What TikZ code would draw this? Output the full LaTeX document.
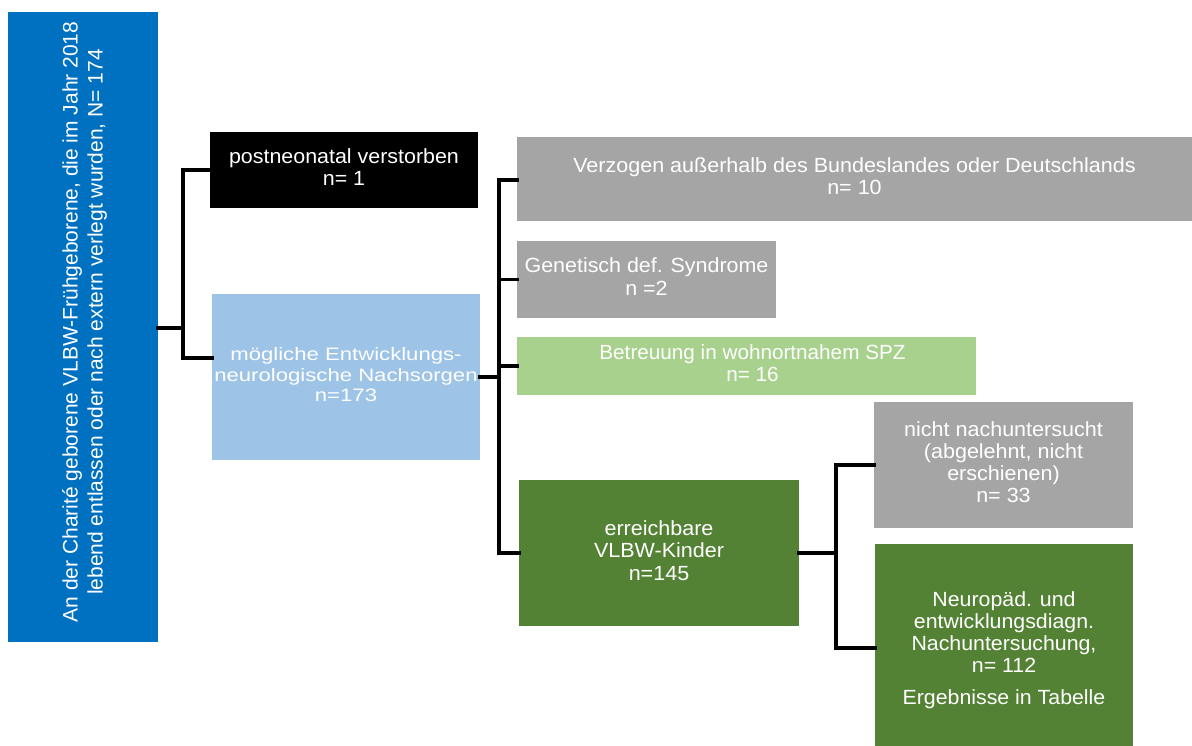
\documentclass[tikz,border=0pt]{standalone}
\usepackage{fontspec}
\setmainfont{Liberation Sans}
\usepackage{graphicx}
\definecolor{cblue}{HTML}{0070C0}
\definecolor{clblue}{HTML}{9DC3E6}
\definecolor{cgray}{HTML}{A5A5A5}
\definecolor{clgreen}{HTML}{A9D18E}
\definecolor{cdgreen}{HTML}{548235}
\newcommand{\boxtext}[4]{\fontsize{#1}{#2}\selectfont\scalebox{#3}[1]{\begin{tabular}{@{}c@{}}#4\end{tabular}}}
\begin{document}
\begin{tikzpicture}[x=1pt,y=-1pt,
  box/.style={rectangle, inner sep=0pt, outer sep=0pt, text=white, draw=none},
  conn/.style={draw=black, line width=3.5pt, line cap=rect, line join=miter}]
\useasboundingbox[fill=white] (0,0) rectangle (1192,746);

\node[box, fill=cblue, minimum width=150pt, minimum height=630pt] (root) at (83,327) {};
\node[text=white, rotate=90, inner sep=0pt, align=center, font=\fontsize{21}{25}\selectfont] (roottext) at (84.5,322)
  {An der Charité geborene VLBW-Frühgeborene, die im Jahr 2018\\lebend entlassen oder nach extern verlegt wurden, N= 174};

\node[box, fill=black, minimum width=268pt, minimum height=76pt] (dead) at (344,170)
  {\boxtext{20.5}{22.5}{1.045}{postneonatal verstorben\\n= 1}};
\node[box, fill=clblue, minimum width=268pt, minimum height=166pt] (poss) at (346,377)
  {\boxtext{18}{20.5}{1.23}{mögliche Entwicklungs-\\neurologische Nachsorgen\\n=173}};

\node[box, fill=cgray, minimum width=675pt, minimum height=84pt] (moved) at (854.5,179)
  {\boxtext{20.5}{22.5}{1.05}{Verzogen außerhalb des Bundeslandes oder Deutschlands\\n= 10}};
\node[box, fill=cgray, minimum width=259pt, minimum height=77pt] (gen) at (646.5,279.5)
  {\boxtext{20.5}{22.5}{1.045}{Genetisch def. Syndrome\\n =2}};
\node[box, fill=clgreen, minimum width=459pt, minimum height=58pt] (spz) at (746.5,366)
  {\hspace*{12pt}\boxtext{20.5}{21.5}{1.01}{Betreuung in wohnortnahem SPZ\\n= 16}};
\node[box, fill=cdgreen, minimum width=280pt, minimum height=146pt] (reach) at (659,553)
  {\boxtext{20.5}{22.5}{1.05}{erreichbare\\VLBW-Kinder\\n=145}};

\node[box, fill=cgray, minimum width=259pt, minimum height=126pt] (notex) at (1003.5,465)
  {\boxtext{20.5}{22}{1.05}{nicht nachuntersucht\\(abgelehnt, nicht\\erschienen)\\n= 33}};
\node[box, fill=cdgreen, minimum width=258pt, minimum height=202pt] (exam) at (1004,645)
  {\boxtext{20.5}{22}{1.04}{\rule{0pt}{27.4pt}Neuropäd. und\\entwicklungsdiagn.\\Nachuntersuchung,\\n= 112\\[10pt]Ergebnisse in Tabelle}};

% connectors
\coordinate (j1) at (183,328);
\coordinate (j2) at (499,377);
\coordinate (j3) at (836,553);
\draw[conn] (root.east |- j1) -- (j1);
\draw[conn] (dead.west) -| (j1);
\draw[conn] ([yshift=19pt]poss.west) -| (j1);
\draw[conn] (poss.east) -- (j2);
\draw[conn] ([yshift=-1pt]moved.west) -| (j2);
\draw[conn] (gen.west) -| (j2);
\draw[conn] (spz.west) -| (j2);
\draw[conn] (reach.west) -| (j2);
\draw[conn] (reach.east) -- (j3);
\draw[conn] (notex.west) -| (j3);
\draw[conn] ([yshift=-3pt]exam.west) -| (j3);
\end{tikzpicture}
\end{document}
